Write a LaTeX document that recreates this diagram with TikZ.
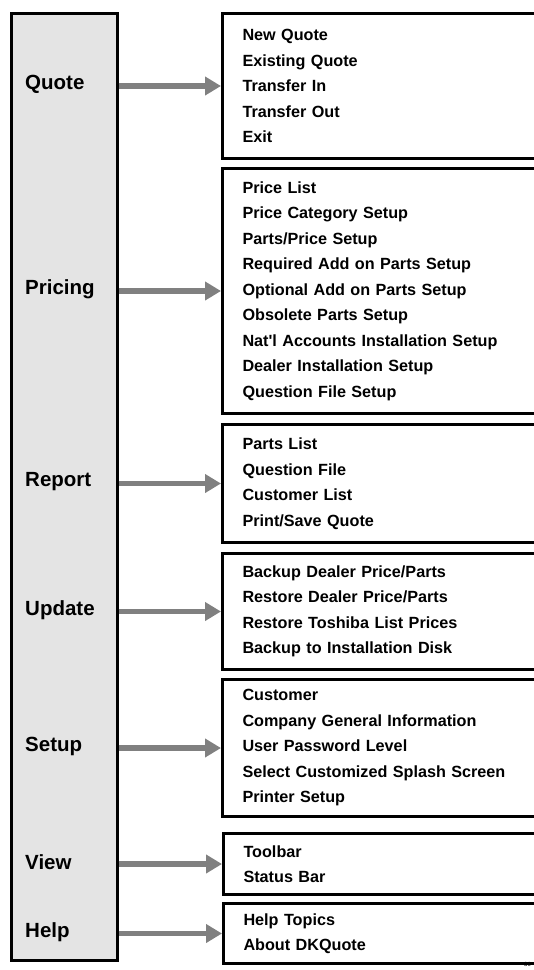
\documentclass[tikz,border=0pt]{standalone}
\usepackage{fontspec}
\setmainfont{Liberation Sans}
\usepackage{xcolor}
\usepackage{tikz}
\usetikzlibrary{arrows.meta, positioning}
\definecolor{barfill}{RGB}{228,228,228}
\definecolor{arrowgray}{RGB}{128,128,128}

\begin{document}
\begin{tikzpicture}[
    x=1pt, y=-1pt,
    menubar/.style={draw, line width=2.5pt, fill=barfill},
    menulabel/.style={anchor=west, inner sep=0pt, font=\fontsize{20.5}{24}\selectfont\bfseries},
    menubox/.style={draw, line width=3pt, anchor=north west, minimum width=330pt, text width=290pt,
        inner xsep=20pt, inner ysep=0pt, align=left, font=\fontsize{16.2}{25.5}\selectfont\bfseries},
    pipe/.style={-{Triangle[length=16pt, width=18pt]}, line width=5.5pt, arrowgray}
]
    \useasboundingbox (0,0) rectangle (534,970);
    \clip (0,0) rectangle (534,970);

    % Menu bar
    \node[menubar, minimum width=106pt, minimum height=947pt, anchor=north west] (bar) at (10,12) {};

    % Submenus
    \node[menubox, minimum height=145pt] (quotebox) at (221,12)
        {New Quote\\Existing Quote\\Transfer In\\Transfer Out\\Exit};
    \node[menubox, minimum height=245pt] (pricingbox) at (221,167)
        {Price List\\Price Category Setup\\Parts/Price Setup\\Required Add on Parts Setup\\Optional Add on Parts Setup\\Obsolete Parts Setup\\Nat\textquotesingle l Accounts Installation Setup\\Dealer Installation Setup\\Question File Setup};
    \node[menubox, minimum height=118pt] (reportbox) at (221,423)
        {Parts List\\Question File\\Customer List\\Print/Save Quote};
    \node[menubox, minimum height=116pt] (updatebox) at (221,552)
        {Backup Dealer Price/Parts\\Restore Dealer Price/Parts\\Restore Toshiba List Prices\\Backup to Installation Disk};
    \node[menubox, minimum height=137pt] (setupbox) at (221,678)
        {Customer\\Company General Information\\User Password Level\\Select Customized Splash Screen\\Printer Setup};
    \node[menubox, minimum height=61pt] (viewbox) at (222,832)
        {Toolbar\\Status Bar};
    \node[menubox, minimum height=60pt] (helpbox) at (222,902)
        {Help Topics\\About DKQuote};

    % Menu names
    \node[menulabel] (quote) at (25,84.5) {Quote};
    \node[menulabel] (pricing) at (25,289.5) {Pricing};
    \node[menulabel] (report) at (25,482) {Report};
    \node[menulabel] (update) at (25,610) {Update};
    \node[menulabel] (setup) at (25,746.5) {Setup};
    \node[menulabel] (view) at (25,862.5) {View};
    \node[menulabel] (help) at (25,932) {Help};

    % Pipes
    \draw[pipe] (bar.east |- quotebox.west) -- (quotebox.west);
    \draw[pipe] (bar.east |- pricingbox.west) -- (pricingbox.west);
    \draw[pipe] (bar.east |- reportbox.west) -- (reportbox.west);
    \draw[pipe] (bar.east |- updatebox.west) -- (updatebox.west);
    \draw[pipe] (bar.east |- setupbox.west) -- (setupbox.west);
    \draw[pipe] (bar.east |- viewbox.west) -- (viewbox.west);
    \draw[pipe] (bar.east |- helpbox.west) -- (helpbox.west);

    % Page number
    \node[anchor=north west, inner sep=0pt, font=\fontsize{6}{6}\selectfont] (pagenum) at (524,962) {30};
\end{tikzpicture}
\end{document}
